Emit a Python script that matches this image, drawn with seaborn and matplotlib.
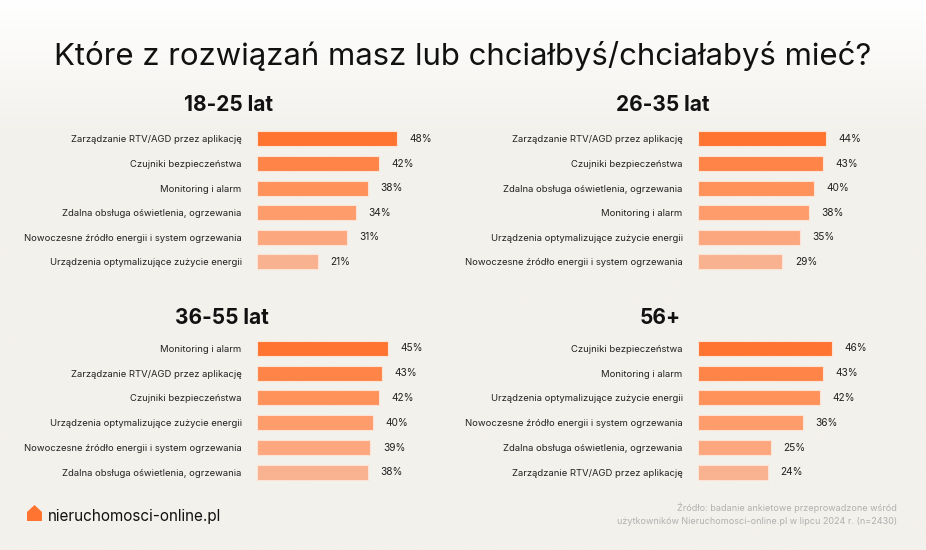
import numpy as np
import matplotlib.pyplot as plt
import seaborn as sns
from matplotlib.patches import Polygon

# %%
# data
groups = ["18-25 lat", "26-35 lat", "36-55 lat", "56+"]

labels_18_25 = ["Zarządzanie RTV/AGD przez aplikację", "Czujniki bezpieczeństwa",
                "Monitoring i alarm", "Zdalna obsługa oświetlenia, ogrzewania",
                "Nowoczesne źródło energii i system ogrzewania",
                "Urządzenia optymalizujące zużycie energii"]
values_18_25 = [48, 42, 38, 34, 31, 21]

labels_26_35 = ["Zarządzanie RTV/AGD przez aplikację", "Czujniki bezpieczeństwa",
                "Zdalna obsługa oświetlenia, ogrzewania", "Monitoring i alarm",
                "Urządzenia optymalizujące zużycie energii",
                "Nowoczesne źródło energii i system ogrzewania"]
values_26_35 = [44, 43, 40, 38, 35, 29]

labels_36_55 = ["Monitoring i alarm", "Zarządzanie RTV/AGD przez aplikację",
                "Czujniki bezpieczeństwa", "Urządzenia optymalizujące zużycie energii",
                "Nowoczesne źródło energii i system ogrzewania",
                "Zdalna obsługa oświetlenia, ogrzewania"]
values_36_55 = [45, 43, 42, 40, 39, 38]

labels_56 = ["Czujniki bezpieczeństwa", "Monitoring i alarm",
             "Urządzenia optymalizujące zużycie energii",
             "Nowoczesne źródło energii i system ogrzewania",
             "Zdalna obsługa oświetlenia, ogrzewania",
             "Zarządzanie RTV/AGD przez aplikację"]
values_56 = [46, 43, 42, 36, 25, 24]

rank_colors = ["#FF7430", "#FF8447", "#FF915A", "#FE9C6B", "#FCA77D", "#F8B28F"]

# %%
sns.set_theme(style="white")
plt.rcParams['font.family'] = ['Inter', 'DejaVu Sans']

fig = plt.figure(figsize=(9.26, 5.5), dpi=100)
fig.patch.set_facecolor("#F3F1EC")

# background: white at top fading into beige
bg = fig.add_axes([0, 0, 1, 1], zorder=-5)
grad = np.linspace(0, 1, 256).reshape(-1, 1)
top = np.array([1.0, 1.0, 1.0])
bot = np.array([0xF3, 0xF1, 0xEC]) / 255
ramp = np.clip(grad / 0.25, 0, 1)
img = top + (bot - top) * ramp[..., None]
bg.imshow(img, aspect="auto", extent=[0, 1, 0, 1], origin="upper")
bg.axis("off")

fig.text(0.5, 0.898, "Które z rozwiązań masz lub chciałbyś/chciałabyś mieć?",
         ha="center", va="center", fontsize=22.4, color="#111111")

panels = [
    (labels_18_25, values_18_25, 257, 0.5013, 0.2684, 228, 105),
    (labels_26_35, values_26_35, 698, 0.5013, 0.2684, 663, 105),
    (labels_36_55, values_36_55, 257, 0.1187, 0.2705, 222, 318),
    (labels_56, values_56, 698, 0.1187, 0.2705, 660, 318),
]

for g, (labs, vals, xpx, y0, h, tx, ty) in zip(groups, panels):
    ax = fig.add_axes([xpx / 926, y0, 145.5 / 926, h])
    sns.barplot(x=vals, y=labs, hue=labs, palette=rank_colors, legend=False,
                orient="h", width=0.61, saturation=1, ax=ax,
                edgecolor="#FDE3D5", linewidth=0.8)
    for c in ax.containers:
        ax.bar_label(c, fmt="%d%%", padding=9, fontsize=7.3, color="#222222")
    ax.set_xlim(0, 50)
    ax.set_ylim(5.5, -0.5)
    ax.set_xlabel("")
    ax.set_ylabel("")
    ax.set_xticks([])
    ax.tick_params(axis="y", length=0, pad=11, labelsize=6.8, labelcolor="#222222")
    ax.patch.set_alpha(0)
    sns.despine(ax=ax, left=True, bottom=True)
    fig.text(tx / 926, 1 - ty / 550, g, ha="center", va="center",
             fontsize=15, fontweight="bold", color="#111111")

# footer: logo and source
pts = np.array([[27, 521], [27, 512], [34.5, 505], [42, 512], [42, 521]], dtype=float)
pts[:, 0] = pts[:, 0] / 926
pts[:, 1] = 1 - pts[:, 1] / 550
fig.patches.append(Polygon(pts, closed=True, transform=fig.transFigure,
                           facecolor="#FF7430", edgecolor="none"))
fig.text(48 / 926, 1 - 516 / 550, "nieruchomosci-online.pl", ha="left", va="center",
         fontsize=11, color="#111111")
fig.text(897 / 926, 1 - 508 / 550, "Źródło: badanie ankietowe przeprowadzone wśród",
         ha="right", va="center", fontsize=6.5, color="#B0B0B0")
fig.text(897 / 926, 1 - 522 / 550,
         "użytkowników Nieruchomosci-online.pl w lipcu 2024 r. (n=2430)",
         ha="right", va="center", fontsize=6.5, color="#B0B0B0")

fig.savefig("out.png", dpi=100)
